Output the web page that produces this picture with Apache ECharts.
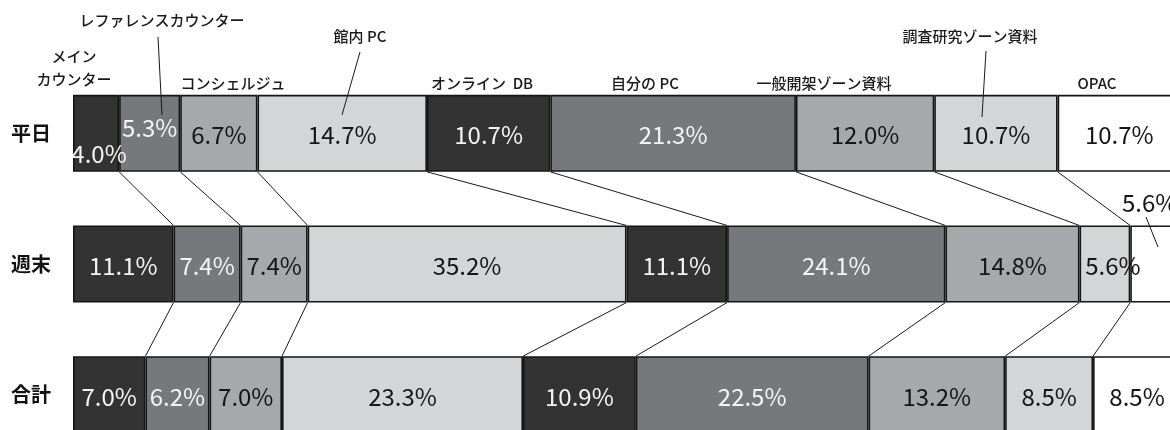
<!DOCTYPE html>
<html>
<head>
<meta charset="utf-8">
<script src="https://cdn.jsdelivr.net/npm/echarts@6/dist/echarts.min.js"></script>
<style>
html,body{margin:0;padding:0;background:#fff;}
#c{width:1170px;height:430px;}
</style>
</head>
<body>
<div id="c"></div>
<script>
const categories = ['平日', '週末', '合計'];
const seriesNames = ['メインカウンター', 'レファレンスカウンター', 'コンシェルジュ', '館内 PC', 'オンライン DB', '自分の PC', '一般開架ゾーン資料', '調査研究ゾーン資料', 'OPAC'];
const weekday = [4.0, 5.3, 6.7, 14.7, 10.7, 21.3, 12.0, 10.7, 10.7];
const weekend = [11.1, 7.4, 7.4, 35.2, 11.1, 24.1, 14.8, 5.6, 5.6];
const total = [7.0, 6.2, 7.0, 23.3, 10.9, 22.5, 13.2, 8.5, 8.5];

const rows = [weekday, weekend, total];
const colors = ['#333333', '#77787b', '#a7a8ab', '#d4d5d7', '#333333', '#77787b', '#a7a8ab', '#d4d5d7', '#ffffff'];
const labelColors = ['#f4f4f4', '#f4f4f4', '#151515', '#151515', '#f4f4f4', '#f4f4f4', '#151515', '#151515', '#151515'];
const FONT = '"Noto Sans CJK JP", "Noto Sans", sans-serif';

// normalize each row to 100% width
const norm = rows.map(r => {
  const s = r.reduce((a, b) => a + b, 0);
  return r.map(v => v / s * 100);
});
// cumulative boundaries
const cum = norm.map(r => {
  let acc = 0;
  return r.map(v => (acc += v));
});

// key: seriesIndex-rowIndex
const labelOverrides = {
  '0-0': { offset: [3, 21] },
  '1-0': { offset: [0, -5] },
  '7-1': { offset: [8, 2] },
  '8-1': { offset: [-6, -61] }
};

const barSeries = seriesNames.map((name, si) => ({
  name: name,
  type: 'bar',
  stack: 'all',
  barWidth: 77,
  data: categories.map((c, ri) => {
    const item = { value: norm[ri][si] };
    const ov = labelOverrides[si + '-' + ri];
    if (ov) item.label = { offset: ov.offset };
    return item;
  }),
  itemStyle: { color: colors[si], borderColor: '#151515', borderWidth: 1.6 },
  label: {
    show: true,
    position: 'inside',
    offset: [0, 2],
    color: labelColors[si],
    fontFamily: FONT,
    fontSize: 24,
    fontWeight: 'normal',
    formatter: p => rows[p.dataIndex][si].toFixed(1) + '%'
  },
  emphasis: { disabled: true },
  silent: true,
  z: 3
}));

// connectors between adjacent rows at each internal boundary
const connData = [];
for (let ri = 0; ri < rows.length - 1; ri++) {
  for (let k = 0; k < seriesNames.length - 1; k++) {
    connData.push([cum[ri][k], cum[ri + 1][k], ri]);
  }
}
const connSeries = {
  type: 'custom',
  silent: true,
  z: 2,
  encode: { x: [0, 1], y: 2 },
  data: connData,
  renderItem: (params, api) => {
    const half = 38.5;
    const r = api.value(2);
    const p1 = api.coord([api.value(0), r]);
    const p2 = api.coord([api.value(1), r + 1]);
    return {
      type: 'line',
      shape: { x1: p1[0], y1: p1[1] + half, x2: p2[0], y2: p2[1] - half },
      style: { stroke: '#1a1a1a', lineWidth: 1 }
    };
  }
};

const annStyle = { fontFamily: FONT, fontSize: 15, fontWeight: 500, fill: '#1a1a1a', textAlign: 'center', textVerticalAlign: 'middle' };
function ann(text, x, y, extra) {
  return { type: 'text', x: x, y: y, style: Object.assign({ text: text }, annStyle, extra || {}), z: 10 };
}
function lead(x1, y1, x2, y2) {
  return { type: 'line', shape: { x1: x1, y1: y1, x2: x2, y2: y2 }, style: { stroke: '#1a1a1a', lineWidth: 1 }, z: 10 };
}

const chart = echarts.init(document.getElementById('c'));
chart.setOption({
  animation: false,
  backgroundColor: '#ffffff',
  grid: { left: 73, top: 68, width: 1108, height: 392, containLabel: false, outerBoundsMode: 'none' },
  xAxis: { type: 'value', min: 0, max: 100, show: false },
  yAxis: {
    type: 'category',
    data: categories,
    inverse: true,
    axisLine: { show: false },
    axisTick: { show: false },
    axisLabel: { fontFamily: FONT, fontSize: 20, fontWeight: 'bold', color: '#111', margin: 22 }
  },
  series: barSeries.concat([connSeries]),
  graphic: [
    ann('メイン\nカウンター', 74, 68, { lineHeight: 23 }),
    ann('レファレンスカウンター', 162, 20),
    lead(158, 37, 162, 115),
    ann('コンシェルジュ', 233, 83),
    ann('館内 PC', 360, 36),
    lead(360, 52, 342, 115),
    ann('オンライン  DB', 482, 83),
    ann('自分の PC', 645, 83),
    ann('一般開架ゾーン資料', 824, 83),
    ann('調査研究ゾーン資料', 970, 36),
    lead(986, 51, 982, 117),
    ann('OPAC', 1097, 83),
    lead(1146, 217, 1158, 247)
  ]
});
</script>
</body>
</html>
